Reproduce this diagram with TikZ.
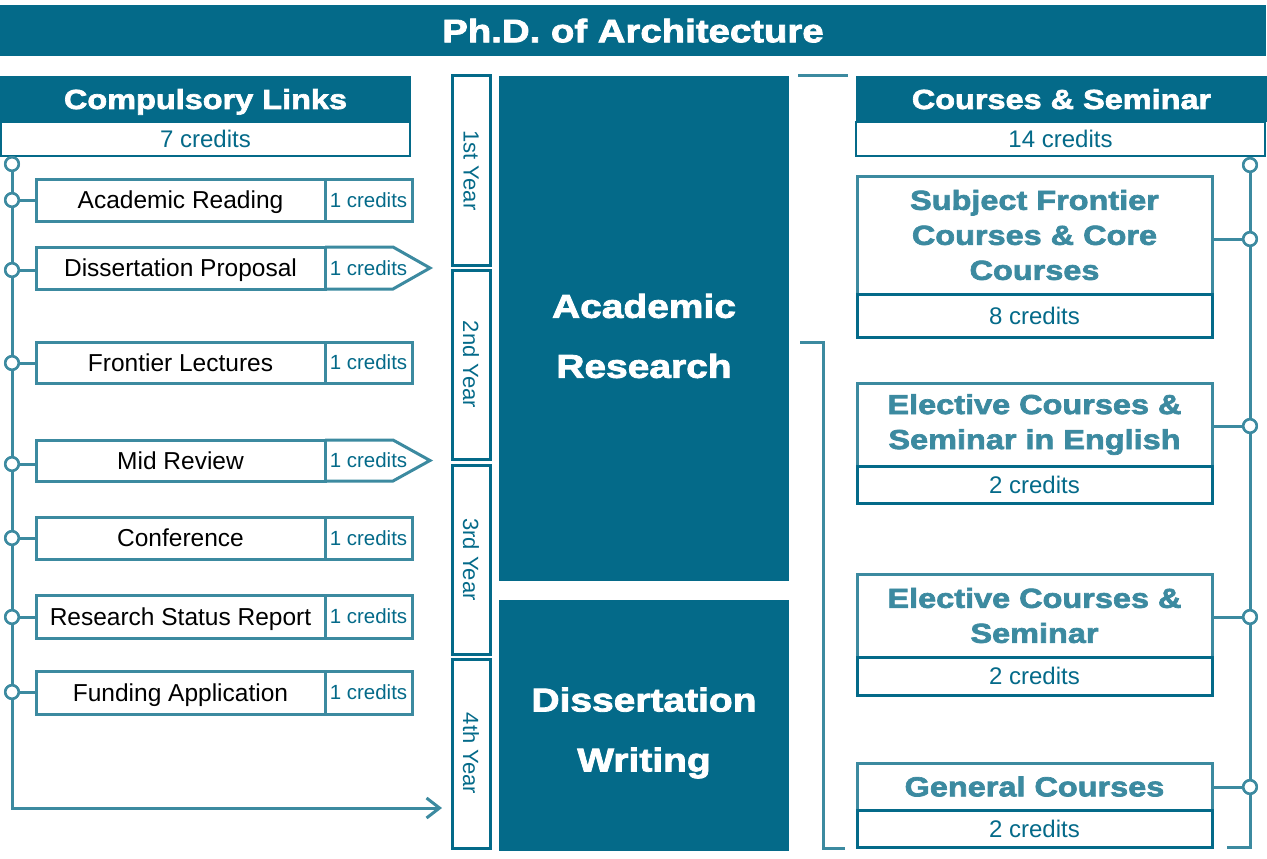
\documentclass[tikz,border=0pt]{standalone}
\usepackage{fontspec}
\setmainfont{Liberation Sans}
\newfontfamily\heavy{Liberation Sans}[FakeStretch=1.18, BoldFeatures={FakeBold=2.5}]
\usetikzlibrary{arrows.meta}
\definecolor{dk}{RGB}{4,106,137}
\definecolor{lt}{RGB}{60,138,160}
\begin{document}
\begin{tikzpicture}[x=1pt,y=-1pt,
  box/.style={anchor=north west, inner sep=0pt, outer sep=0pt},
  hdr/.style={box, fill=dk, text=white, text depth=0pt, font=\heavy\bfseries\fontsize{27.5}{30}\selectfont},
  dkcred/.style={box, draw=dk, line width=2.5pt, fill=white, text=dk, font=\fontsize{24}{26}\selectfont},
  rowname/.style={box, draw=lt, line width=3pt, minimum width=289pt, text=black, text depth=0pt, font=\fontsize{24.5}{26}\selectfont},
  rowcred/.style={box, draw=lt, line width=3pt, minimum width=87pt, text=dk, font=\fontsize{20.5}{22}\selectfont},
  rowarrow/.style={box, draw=none, minimum width=87pt, text=dk, font=\fontsize{20.5}{22}\selectfont},
  yearbox/.style={box, draw=dk, line width=3pt, minimum width=38pt, minimum height=189pt, text=dk, font=\fontsize{22}{24}\selectfont},
  block/.style={box, fill=dk, minimum width=290pt},
  blocktext/.style={text=white, align=center, font=\heavy\bfseries\fontsize{33}{60}\selectfont},
  ctitle/.style={box, draw=lt, line width=3pt, minimum width=355pt, text=lt, align=center, font=\heavy\bfseries\fontsize{27.5}{35}\selectfont},
  ccred/.style={box, draw=dk, line width=3pt, minimum width=355pt, text=dk, font=\fontsize{24}{26}\selectfont},
  conn/.style={draw=lt, line width=3pt},
  dot/.style={circle, draw=lt, fill=white, line width=2.5pt, minimum size=13.5pt, inner sep=0pt}]
\path[use as bounding box] (0,0) rectangle (1267,859);

% title
\node[hdr, minimum width=1266pt, minimum height=51pt, font=\heavy\bfseries\fontsize{32.5}{34}\selectfont] (title) at (0,5) {Ph.D. of Architecture};

% left header
\node[hdr, minimum width=411pt, minimum height=46pt] (lhdr) at (0,76) {Compulsory Links};
\node[dkcred, minimum width=409pt, minimum height=34pt] (lcred) at (1,122) {7 credits};

% left rows
\node[rowname, minimum height=42pt] (ar) at (36,179) {Academic Reading};
\node[rowcred, minimum height=42pt] (arc) at (325,179) {1 credits};
\node[rowname, minimum height=42pt] (dp) at (36,247) {Dissertation Proposal};
\node[rowarrow, minimum height=42pt] (dpc) at (325,247) {1 credits};
\node[rowname, minimum height=41pt] (fl) at (36,342) {Frontier Lectures};
\node[rowcred, minimum height=41pt] (flc) at (325,342) {1 credits};
\node[rowname, minimum height=41pt] (mr) at (36,440) {Mid Review};
\node[rowarrow, minimum height=41pt] (mrc) at (325,440) {1 credits};
\node[rowname, minimum height=42pt] (cf) at (36,517) {Conference};
\node[rowcred, minimum height=42pt] (cfc) at (325,517) {1 credits};
\node[rowname, minimum height=43pt] (rsr) at (36,595) {Research Status Report};
\node[rowcred, minimum height=43pt] (rsrc) at (325,595) {1 credits};
\node[rowname, minimum height=43pt] (fa) at (36,671) {Funding Application};
\node[rowcred, minimum height=43pt] (fac) at (325,671) {1 credits};

% arrow-shaped credit boxes
\draw[conn, line join=miter] (dpc.north west) -- ([xshift=-19pt]dpc.north east) -- ([xshift=18pt]dpc.east) -- ([xshift=-19pt]dpc.south east) -- (dpc.south west);
\draw[conn, line join=miter] (mrc.north west) -- ([xshift=-19pt]mrc.north east) -- ([xshift=18pt]mrc.east) -- ([xshift=-19pt]mrc.south east) -- (mrc.south west);

% left timeline
\coordinate (lcorner) at (12,808);
\coordinate (lend) at (442,808);
\node[dot] (l0) at (12,164) {};
\node[dot] (l1) at (12,200) {};
\node[dot] (l2) at (12,270) {};
\node[dot] (l3) at (12,363) {};
\node[dot] (l4) at (12,464) {};
\node[dot] (l5) at (12,538) {};
\node[dot] (l6) at (12,617) {};
\node[dot] (l7) at (12,692) {};
\draw[conn, -{Straight Barb[length=13pt,width=20pt,line width=3pt]}] (l0.south) -- (lcorner) -- (lend);
\foreach \d/\b in {l1/ar, l2/dp, l3/fl, l4/mr, l5/cf, l6/rsr, l7/fa}{
  \draw[conn] (\d.east) -- (\d -| \b.west);
}
\foreach \d in {l0,l1,l2,l3,l4,l5,l6,l7}{
  \node[dot] at (\d) {};
}

% year boxes
\node[yearbox] (y1) at (452,76) {\rotatebox{-90}{1st Year}};
\node[yearbox] (y2) at (452,270) {\rotatebox{-90}{2nd Year}};
\node[yearbox] (y3) at (452,465) {\rotatebox{-90}{3rd Year}};
\node[yearbox] (y4) at (452,659) {\rotatebox{-90}{4th Year}};

% central blocks
\node[block, minimum height=505pt] (res) at (499,76) {};
\node[blocktext] (restext) at (644,336) {Academic\\Research};
\node[block, minimum height=251pt] (dw) at (499,600) {};
\node[blocktext] (dwtext) at (644,733) {Dissertation\\Writing};

% brackets
\coordinate (tb1) at (798,76);
\coordinate (tb2) at (848,76);
\draw[conn] (tb1) -- (tb2);
\coordinate (bk1) at (800,342);
\coordinate (bk2) at (823,342);
\coordinate (bk3) at (823,848);
\coordinate (bk4) at (845,848);
\draw[conn] (bk1) -- (bk2) -- (bk3) -- (bk4);

% right header
\node[hdr, minimum width=411pt, minimum height=46pt] (rhdr) at (856,76) {Courses \& Seminar};
\node[dkcred, minimum width=409pt, minimum height=34pt] (rcred) at (856,122) {14 credits};

% course boxes
\node[ctitle, minimum height=118pt] (sf) at (857,176) {Subject Frontier\\Courses \& Core\\Courses};
\node[ccred, minimum height=43pt] (sfc) at (857,294) {8 credits};
\node[ctitle, minimum height=83pt] (ee) at (857,383) {Elective Courses \&\\Seminar in English};
\node[ccred, minimum height=37pt] (eec) at (857,466) {2 credits};
\node[ctitle, minimum height=83pt] (el) at (857,574) {Elective Courses \&\\Seminar};
\node[ccred, minimum height=38pt] (elc) at (857,657) {2 credits};
\node[ctitle, minimum height=47pt] (gc) at (857,763) {General Courses};
\node[ccred, minimum height=37pt] (gcc) at (857,810) {2 credits};

% right timeline
\node[dot] (r0) at (1250,165) {};
\node[dot] (r1) at (1250,239) {};
\node[dot] (r2) at (1250,426) {};
\node[dot] (r3) at (1250,617) {};
\node[dot] (r4) at (1250,787) {};
\coordinate (rcorner) at (1250,847);
\coordinate (rend) at (1227,847);
\draw[conn] (r0.south) -- (rcorner) -- (rend);
\foreach \d/\b in {r1/sf, r2/ee, r3/el, r4/gc}{
  \draw[conn] (\d.west) -- (\d -| \b.east);
}
\foreach \d in {r0,r1,r2,r3,r4}{
  \node[dot] at (\d) {};
}
\end{tikzpicture}
\end{document}
